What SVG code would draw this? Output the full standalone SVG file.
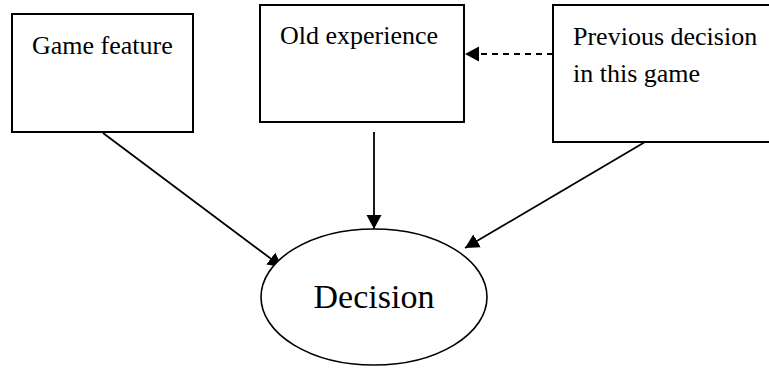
<svg xmlns="http://www.w3.org/2000/svg" width="769" height="368" viewBox="0 0 769 368">
  <style>
    .box { fill: #fff; stroke: #000; stroke-width: 2; }
    .ell { fill: #fff; stroke: #000; stroke-width: 1.6; }
    .lbl { font-family: "Liberation Serif", "Times New Roman", serif; font-size: 26px; fill: #000; }
    .big { font-family: "Liberation Serif", "Times New Roman", serif; font-size: 34px; fill: #000; }
    .edge { fill: none; stroke: #000; stroke-width: 1.8; }
    .dash { stroke-dasharray: 6 5; }
  </style>
  <defs>
    <marker id="arrow" markerUnits="userSpaceOnUse" markerWidth="16" markerHeight="16" viewBox="0 0 16 16" refX="14" refY="8" orient="auto">
      <path d="M0,0.5 L14,8 L0,15.5 Z" fill="#000"/>
    </marker>
  </defs>
  <rect width="769" height="368" fill="#fff"/>

  <g id="connectors">
    <line class="edge" x1="103" y1="133" x2="282" y2="267" marker-end="url(#arrow)"/>
    <line class="edge" x1="374" y1="132" x2="374" y2="229" marker-end="url(#arrow)"/>
    <line class="edge" x1="645" y1="142" x2="465" y2="248" marker-end="url(#arrow)"/>
    <line class="edge dash" x1="553" y1="54" x2="465" y2="54" marker-end="url(#arrow)"/>
  </g>

  <g id="game-feature">
    <rect class="box" x="12" y="14" width="181" height="118"/>
    <text class="lbl" x="32" y="54">Game feature</text>
  </g>

  <g id="old-experience">
    <rect class="box" x="260" y="5" width="204" height="117"/>
    <text class="lbl" x="280" y="44">Old experience</text>
  </g>

  <g id="previous-decision">
    <rect class="box" x="553" y="5" width="222" height="137"/>
    <text class="lbl" x="573" y="45">Previous decision</text>
    <text class="lbl" x="573" y="82">in this game</text>
  </g>

  <g id="decision">
    <ellipse class="ell" cx="374" cy="297" rx="113" ry="68"/>
    <text class="big" x="374" y="308" text-anchor="middle">Decision</text>
  </g>
</svg>
